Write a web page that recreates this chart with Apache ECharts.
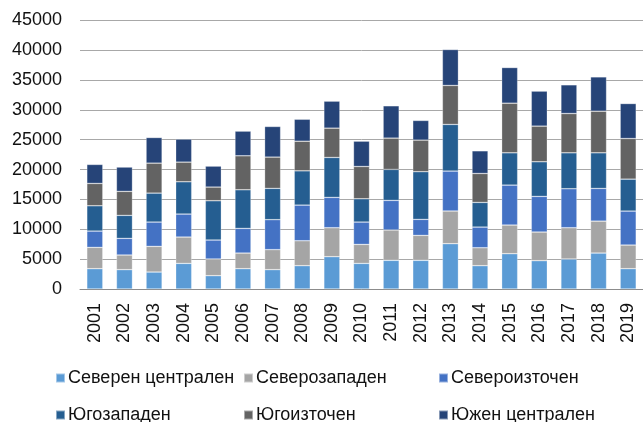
<!DOCTYPE html>
<html>
<head>
<meta charset="utf-8">
<script src="https://cdn.jsdelivr.net/npm/echarts@6/dist/echarts.min.js"></script>
<style>html,body{margin:0;padding:0;background:#fff;}#c{width:643px;height:422px;}</style>
</head>
<body>
<div id="c"></div>
<script>
const years = ['2001','2002','2003','2004','2005','2006','2007','2008','2009','2010','2011','2012','2013','2014','2015','2016','2017','2018','2019'];
const seriesNames = ['Северен централен','Северозападен','Североизточен','Югозападен','Югоизточен','Южен централен'];
const northCentral = [3400,3240,2840,4290,2230,3400,3240,3900,5410,4290,4800,4800,7590,3900,5910,4740,5020,6020,3400];
const northWest    = [3570,2450,4300,4410,2790,2620,3350,4180,4850,3180,5080,4180,5470,3010,4800,4800,5240,5350,3960];
const northEast    = [2730,2790,4070,3850,3180,4130,5020,5970,5080,3740,4960,2680,6690,3460,6690,5970,6530,5470,5690];
const southWest    = [4240,3850,4850,5410,6580,6470,5240,5740,6690,3900,5190,7980,7810,4130,5410,5800,6020,5970,5350];
const southEast    = [3740,4020,5020,3290,2290,5690,5240,4960,4910,5410,5240,5300,6530,4850,8310,5970,6580,6970,6800];
const southCentral = [3180,4070,4290,3850,3510,4130,5130,3680,4520,4240,5410,3290,6020,3790,5970,5860,4800,5740,5860];
const yTicks = [0,5000,10000,15000,20000,25000,30000,35000,40000,45000];

const values = [northCentral, northWest, northEast, southWest, southEast, southCentral];
const colors = ['#5b9bd5','#a5a5a5','#4472c4','#255e91','#636363','#264478'];
const font = 'Liberation Sans, Arial, sans-serif';

const legendPos = [
  {left: 55, top: 369}, {left: 243, top: 369}, {left: 438, top: 369},
  {left: 55, top: 406}, {left: 243, top: 406}, {left: 438, top: 406}
];

const chart = echarts.init(document.getElementById('c'), null, {renderer: 'canvas'});
chart.setOption({
  animation: false,
  backgroundColor: '#fff',
  color: colors,
  grid: {left: 80, top: 20.3, width: 565, height: 268.7, containLabel: false},
  legend: seriesNames.map((n, i) => ({
    data: [n],
    left: legendPos[i].left,
    top: legendPos[i].top,
    padding: 0,
    icon: 'rect',
    itemWidth: 9,
    itemHeight: 9,
    textStyle: {fontFamily: font, fontSize: 18, color: '#111', padding: [0,0,0,-2]}
  })),
  xAxis: {
    type: 'category',
    data: years,
    axisTick: {show: false},
    axisLine: {lineStyle: {color: '#8c8c8c', width: 1}},
    axisLabel: {rotate: 90, margin: 14, fontFamily: font, fontSize: 18, color: '#111', interval: 0}
  },
  yAxis: {
    type: 'value',
    min: yTicks[0],
    max: yTicks[yTicks.length - 1],
    interval: yTicks[1] - yTicks[0],
    axisLine: {show: false},
    axisTick: {show: false},
    splitLine: {lineStyle: {color: '#a8a8a8', width: 1}},
    axisLabel: {margin: 18, fontFamily: font, fontSize: 18, color: '#111', formatter: v => String(v)}
  },
  series: seriesNames.map((n, i) => ({
    name: n,
    type: 'bar',
    stack: 'total',
    barWidth: 16,
    data: values[i],
    itemStyle: {color: colors[i], borderColor: 'rgba(255,255,255,0.45)', borderWidth: 0.6}
  }))
});
</script>
</body>
</html>
